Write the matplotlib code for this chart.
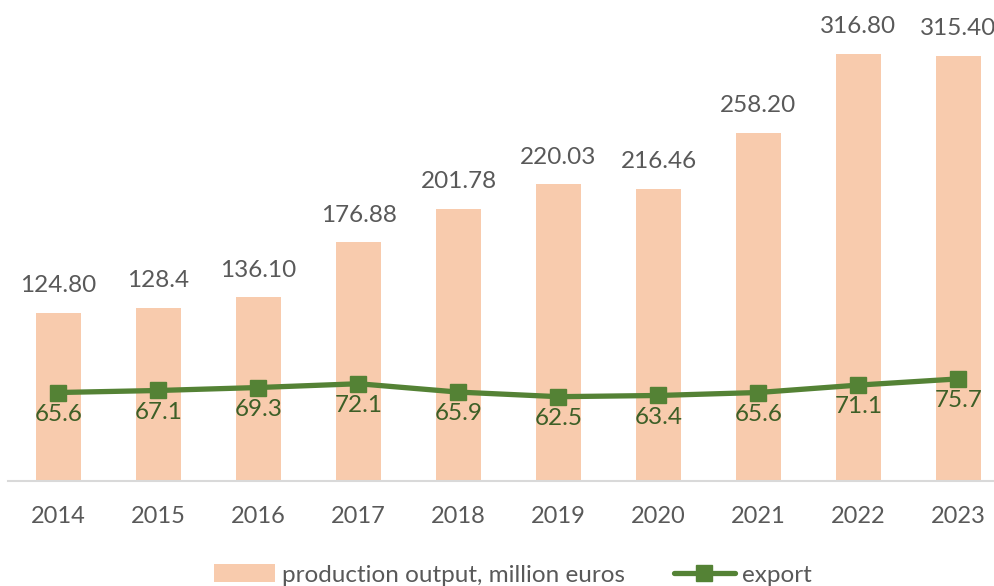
import matplotlib
matplotlib.use("Agg")
import matplotlib.pyplot as plt
import numpy as np

years = ["2014", "2015", "2016", "2017", "2018", "2019", "2020", "2021", "2022", "2023"]
production = [124.80, 128.4, 136.10, 176.88, 201.78, 220.03, 216.46, 258.20, 316.80, 315.40]
production_labels = ["124.80", "128.4", "136.10", "176.88", "201.78", "220.03", "216.46", "258.20", "316.80", "315.40"]
export = [65.6, 67.1, 69.3, 72.1, 65.9, 62.5, 63.4, 65.6, 71.1, 75.7]
export_labels = ["65.6", "67.1", "69.3", "72.1", "65.9", "62.5", "63.4", "65.6", "71.1", "75.7"]

plt.rcParams['font.family'] = ['Lato', 'DejaVu Sans']

W, H = 995, 586
fig = plt.figure(figsize=(W / 100, H / 100), dpi=100)
ax = fig.add_axes([8 / W, (H - 481) / H, 1000 / W, 481 / H])

x = np.arange(len(years))
bar_color = "#F8CBAD"
line_color = "#548235"
label_green = "#3D5F27"
gray = "#595959"

bars = ax.bar(x, production, width=0.45, color=bar_color, label="production output, million euros", zorder=1)
line, = ax.plot(x, export, color=line_color, lw=3.8, marker="s", ms=11.5, markerfacecolor=line_color,
                markeredgecolor=line_color, label="export", zorder=3, solid_capstyle="round")

for xi, v, lab in zip(x, production, production_labels):
    ax.annotate(lab, (xi, v), xytext=(0, 12), textcoords="offset points", ha="center", va="bottom",
                fontsize=17.5, color=gray)
for xi, v, lab in zip(x, export, export_labels):
    ax.annotate(lab, (xi, v), xytext=(0, -8), textcoords="offset points", ha="center", va="top",
                fontsize=17.5, color=label_green)

ax.set_xlim(-0.505, 9.495)
ax.set_ylim(0, 481 / 1.349)
ax.set_xticks(x)
ax.set_xticklabels(years, fontsize=17, color=gray)
ax.tick_params(axis="x", length=0, pad=18)
ax.set_yticks([])
for s in ["top", "right", "left"]:
    ax.spines[s].set_visible(False)
ax.spines["bottom"].set_color("#D9D9D9")
ax.spines["bottom"].set_linewidth(1.5)

leg = fig.legend([bars, line], ["production output, million euros", "export"],
                 loc="center", bbox_to_anchor=(513 / W, 1 - 575 / H), ncol=2, frameon=False,
                 fontsize=17.5, handlelength=2.5, handleheight=0.7, handletextpad=0.3,
                 columnspacing=2.0, labelcolor=gray)

fig.savefig("out.png", dpi=100)
